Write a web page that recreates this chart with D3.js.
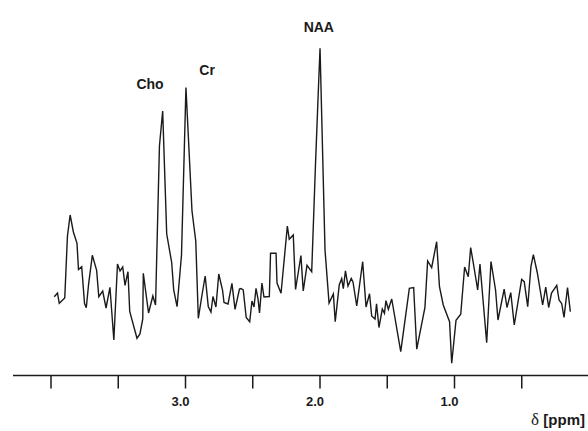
<!DOCTYPE html>
<html><head><meta charset="utf-8">
<script src="https://cdn.jsdelivr.net/npm/d3@7"></script>
<style>
html,body{margin:0;padding:0;background:#fff;}
svg{display:block;}
text{font-family:"Liberation Sans",Arial,Helvetica,sans-serif;}
</style></head>
<body>
<svg id="chart" width="588" height="431"></svg>
<script>
// chemical shift (ppm) and signal intensity (a.u.)
const ppm = [3.972,3.948,3.935,3.894,3.874,3.854,3.830,3.803,3.792,3.768,3.747,3.734,3.716,3.689,3.657,3.641,3.612,3.587,3.558,3.529,3.502,3.483,3.463,3.446,3.424,3.411,3.357,3.335,3.314,3.310,3.271,3.239,3.219,3.190,3.166,3.136,3.099,3.084,3.059,3.026,2.993,2.948,2.920,2.901,2.876,2.850,2.827,2.807,2.792,2.770,2.749,2.721,2.710,2.680,2.651,2.628,2.595,2.584,2.567,2.545,2.519,2.502,2.487,2.472,2.457,2.446,2.428,2.413,2.373,2.364,2.323,2.316,2.286,2.239,2.225,2.195,2.178,2.138,2.121,2.093,2.058,2.030,2.007,1.996,1.959,1.929,1.897,1.883,1.853,1.835,1.823,1.807,1.788,1.764,1.751,1.723,1.679,1.654,1.628,1.612,1.587,1.576,1.558,1.533,1.517,1.506,1.488,1.463,1.396,1.332,1.300,1.277,1.216,1.196,1.166,1.129,1.108,1.080,1.033,1.017,0.985,0.950,0.921,0.894,0.876,0.851,0.824,0.807,0.757,0.725,0.691,0.673,0.627,0.606,0.578,0.552,0.497,0.478,0.452,0.428,0.410,0.381,0.341,0.318,0.296,0.275,0.236,0.219,0.199,0.182,0.156,0.135];
const intensity = [78.3,82,71.7,77,139,160,143,131.7,105.5,108.3,71.5,67.2,91.7,119.7,104.7,78.3,84,67,87.7,35,111,104,108,89.7,103.3,63.5,36.7,41,56,101.7,62,79,70,229,264,141,112.5,85,68.3,120,287.5,164,134,56.7,78,99,68.5,63,78.5,68,101,85,72.5,71,91.7,65.7,86,86.5,85,57.5,53.3,74,68,86.7,76,62,92,78,78.5,121.7,121.7,92,81.7,149,135.7,140,85.5,119.5,84,109.7,103.3,210,290,326.7,125,72,81,53.3,90.3,96.3,86.3,104.2,89,96.5,93,69,113.3,68,81.3,59,56,71.3,47.5,66,61.7,74.3,65.7,76,23.3,86.7,87.5,25.8,67.7,114,107.5,133.3,88.3,70,53.3,11.7,54.7,60.8,108,98.3,127.5,107.5,85,111,32.3,113.5,85,55,85.8,67.5,82.3,50,95.7,93.3,68.3,108.3,120.3,102.5,70,87.8,67.5,82,89.7,75,71.3,57.7,87.5,63.3];
const tickValues = [4.0,3.5,3.0,2.5,2.0,1.5,1.0,0.5,0.0];
const tickLabels = {"3":"3.0","2":"2.0","1":"1.0"};
const peakNames = ["Cho","Cr","NAA"];
const peakPpm = [3.26,2.836,2.005];
const peakLabelLevel = [286,300,343];
const axisTitle = "[ppm]";

const W = 588, H = 431;
const margin = {left:13, right:0, top:45, bottom:56};
const svg = d3.select("#chart");

const x = d3.scaleLinear().domain([4.0, 0.0]).range([50.5, 588.5]);
const y = d3.scaleLinear().domain([0, 330]).range([375, 45]);
const axisY = H - margin.bottom + 0.5;

// spectrum
const data = ppm.map((p,i)=>({p, v:intensity[i]}));
svg.append("path")
  .datum(data)
  .attr("fill","none")
  .attr("stroke","#1a1a1a")
  .attr("stroke-width",1.4)
  .attr("stroke-linejoin","miter")
  .attr("d", d3.line().x(d=>x(d.p)).y(d=>y(d.v)));

// axis
const axis = d3.axisBottom(x)
  .tickValues(tickValues)
  .tickSize(13)
  .tickPadding(8)
  .tickFormat(d => tickLabels[String(d)] || "");
const gAxis = svg.append("g").attr("transform",`translate(0,${axisY})`).call(axis);
gAxis.select(".domain").remove();
gAxis.selectAll(".tick line").attr("stroke","#1a1a1a").attr("stroke-width",1.5);
gAxis.selectAll(".tick text")
  .attr("fill","#1a1a1a")
  .attr("font-size","13px")
  .attr("font-weight","bold")
  .attr("dx","-5px")
  .style("font-family",'"Liberation Sans",Arial,sans-serif');
svg.append("line")
  .attr("x1", margin.left).attr("x2", W)
  .attr("y1", axisY).attr("y2", axisY)
  .attr("stroke","#1a1a1a").attr("stroke-width",1.5);

// axis title
const t = svg.append("text")
  .attr("x", W - 3).attr("y", H - 6)
  .attr("text-anchor","end")
  .attr("fill","#1a1a1a")
  .attr("font-size","15px");
t.append("tspan").attr("font-family",'"Liberation Serif","DejaVu Serif",serif').attr("font-size","17px").text("\u03B4 ");
t.append("tspan").attr("font-weight","bold").text(axisTitle);

// peak labels
svg.selectAll("text.peak")
  .data(peakNames)
  .join("text")
  .attr("class","peak")
  .attr("x",(d,i)=>x(peakPpm[i]))
  .attr("y",(d,i)=>y(peakLabelLevel[i]))
  .attr("text-anchor","middle")
  .attr("font-size","14px")
  .attr("font-weight","bold")
  .attr("fill","#1a1a1a")
  .text(d=>d);
</script>
</body></html>
